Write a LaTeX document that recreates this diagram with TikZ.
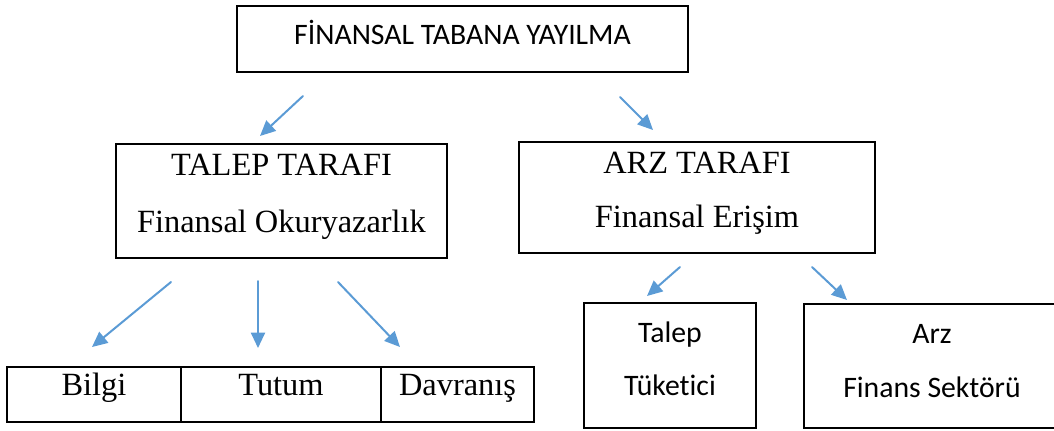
\documentclass[tikz,border=0pt]{standalone}
\usepackage{fontspec}
\setmainfont{Liberation Serif}
\newfontfamily\calibri[Ligatures=NoCommon]{Carlito}
\usetikzlibrary{arrows.meta}
\definecolor{okmavi}{RGB}{91,155,213}

\begin{document}
\begin{tikzpicture}[x=0.75pt,y=-0.75pt,line join=miter,
    kutu/.style={draw,line width=1.4pt,inner sep=0pt,align=center,
                 font=\fontsize{24.3}{42.75}\selectfont},
    ince/.style={draw,line width=0.9pt,inner sep=0pt,align=center,
                 font=\calibri\fontsize{22.3}{40.5}\selectfont},
    ok/.style={draw=okmavi,line width=1.5pt,line cap=round,
               -{Triangle[length=11.5pt,width=10.5pt]}}]

  \useasboundingbox (0,0) rectangle (1054,430);

  % ======================= ust kutu ======================================
  \node[ince,minimum width=338.25pt,minimum height=49.5pt,
        text height=17.5pt,text depth=10pt] (baslik) at (462.5,39)
        {F\.INANSAL TABANA YAYILMA};

  % ======================= ikinci sira: talep / arz =======================
  \node[kutu,minimum width=248.25pt,minimum height=85.5pt,
        text height=56pt,text depth=9.5pt] (talep) at (281.5,201)
        {TALEP TARAFI\\Finansal Okuryazarlık};
  \node[kutu,minimum width=267pt,minimum height=83.25pt,
        font=\fontsize{24.3}{40.5}\selectfont,
        text height=54pt,text depth=9.75pt] (arz) at (697,197.5)
        {ARZ TARAFI\\Finansal Erişim};

  % ======================= alt sira: sol taraf ============================
  \node[kutu,minimum width=130.5pt,minimum height=41.25pt,
        text height=16pt,text depth=14pt] (bilgi)   at (94,394.5)    {Bilgi};
  \node[kutu,minimum width=150pt,minimum height=41.25pt,
        text height=16pt,text depth=14pt] (tutum)   at (281,394.5)   {Tutum};
  \node[kutu,minimum width=114.75pt,minimum height=41.25pt,
        text height=16pt,text depth=14pt] (davranis) at (457.5,394.5) {Davranış};

  % ======================= alt sira: sag taraf ============================
  \node[ince,minimum width=129pt,minimum height=93.75pt,
        font=\calibri\fontsize{22.3}{39.75}\selectfont,
        text height=54pt,text depth=9.75pt] (tuketici) at (670,365.5)
        {Talep\\Tüketici};
  \node[ince,minimum width=192pt,minimum height=93pt,
        text height=56pt,text depth=9.5pt] (sektor) at (932,366)
        {Arz\\Finans Sektörü};

  % ======================= oklar ==========================================
  \coordinate (o1a) at (303,96);   \coordinate (o1b) at (260,136);
  \coordinate (o2a) at (620,97);   \coordinate (o2b) at (653,130);
  \coordinate (o3a) at (171,282);  \coordinate (o3b) at (92,347);
  \coordinate (o4a) at (258,281);  \coordinate (o4b) at (258,348);
  \coordinate (o5a) at (338,282);  \coordinate (o5b) at (400,347);
  \coordinate (o6a) at (680,267);  \coordinate (o6b) at (647,296);
  \coordinate (o7a) at (812,267);  \coordinate (o7b) at (847,300);

  \draw[ok] (o1a) -- (o1b);
  \draw[ok] (o2a) -- (o2b);
  \draw[ok] (o3a) -- (o3b);
  \draw[ok] (o4a) -- (o4b);
  \draw[ok] (o5a) -- (o5b);
  \draw[ok] (o6a) -- (o6b);
  \draw[ok] (o7a) -- (o7b);

\end{tikzpicture}
\end{document}
